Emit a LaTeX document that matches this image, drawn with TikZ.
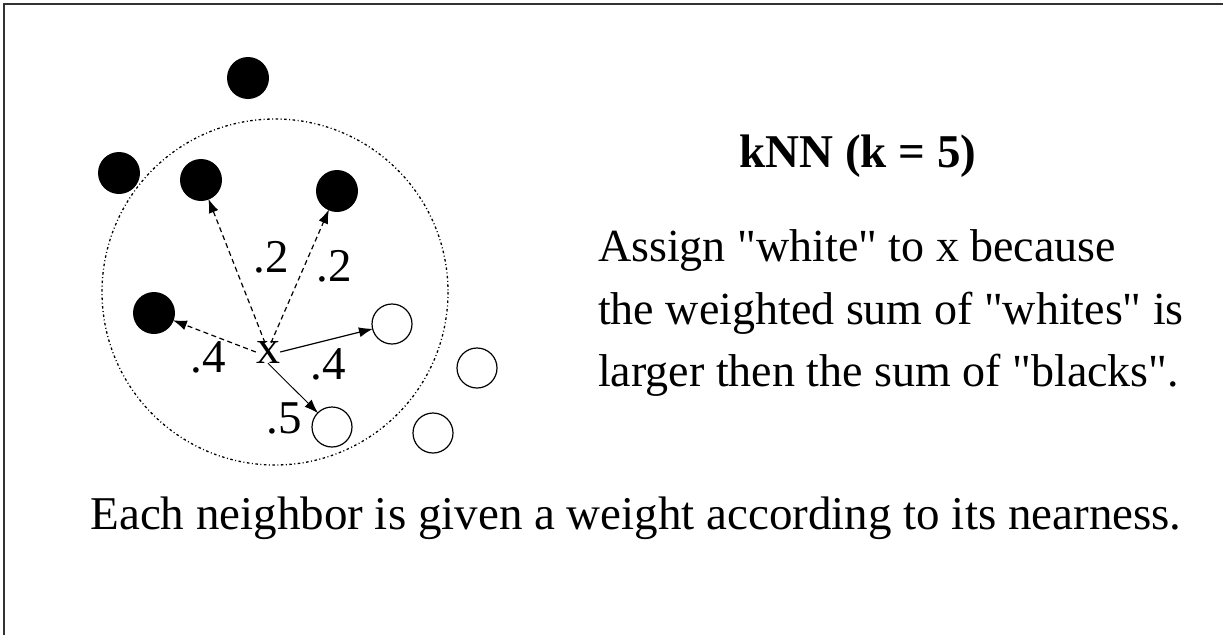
\documentclass[tikz,border=0pt]{standalone}
\usepackage{fontspec}
\setmainfont{Liberation Serif}[Ligatures=TeXOff]
\usetikzlibrary{arrows.meta}
\begin{document}
\begin{tikzpicture}[x=1pt,y=-1pt,
  blk/.style={circle,fill=black,minimum size=42pt,inner sep=0pt},
  wht/.style={circle,draw=black,line width=1.2pt,minimum size=40pt,inner sep=0pt},
  lbl/.style={font=\fontsize{47}{50}\selectfont,inner sep=0pt},
  conn/.style={line width=1.2pt,-{Latex[length=14pt,width=10pt]},shorten >=-1pt},
  dconn/.style={conn,dash pattern=on 5pt off 3.5pt},
  txt/.style={font=\fontsize{46}{50}\selectfont,inner sep=0pt,anchor=base west}]
\useasboundingbox (0,0) rectangle (1223,635);
\draw[line width=2pt,black!80] (3.5,635) -- (3.5,4) -- (1223,4);
% neighbourhood circle
\draw[line width=1.3pt,dash pattern=on 2.5pt off 2.5pt on 1pt off 2.5pt] (275,292) circle (173);
% points
\node[blk] (t) at (248,78) {};
\node[blk] (o) at (119,173) {};
\node[blk] (b1) at (201,180) {};
\node[blk] (b2) at (337,191) {};
\node[blk] (b3) at (154,313) {};
\node[wht] (w1) at (392,324) {};
\node[wht] (w2) at (477,368) {};
\node[wht] (w3) at (332,427) {};
\node[wht] (w4) at (433,433) {};
\node[font=\fontsize{48}{50}\selectfont,inner sep=0pt] (x) at (268,352) {x};
% connectors
\draw[dconn] (x.north) ++(-3,2) coordinate (xa) -- (b1);
\draw[dconn] (x.north) ++(3,2) coordinate (xb) -- (b2);
\draw[dconn] (x.west) -- (b3);
\draw[conn] (x.east) -- (w1);
\draw[conn,line width=0.9pt] (x.south) -- (w3);
% weights
\node[lbl] (l1) at (271,257) {.2};
\node[lbl] (l2) at (334,266) {.2};
\node[lbl] (l3) at (208,357) {.4};
\node[lbl] (l4) at (328,364) {.4};
\node[lbl] (l5) at (284,418) {.5};
% text
\node[font=\fontsize{47}{50}\selectfont\bfseries,inner sep=0pt] (title) at (858,156) {kNN (k = 5)};
\node[txt] (a1) at (598,261) {Assign "white" to x because};
\node[txt] (a2) at (598,324) {the weighted sum of "whites" is};
\node[txt] (a3) at (598,386) {larger then the sum of "blacks".};
\node[font=\fontsize{47}{50}\selectfont,inner sep=0pt] (bot) at (636,518) {Each neighbor is given a weight according to its nearness.};
\end{tikzpicture}
\end{document}
